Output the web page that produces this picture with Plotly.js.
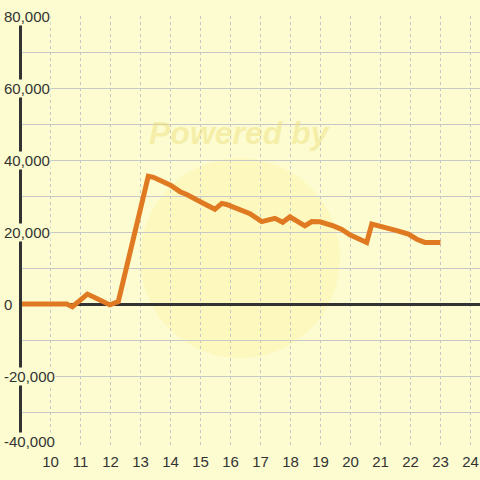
<!DOCTYPE html>
<html>
<head>
<meta charset="utf-8">
<script src="https://cdn.plot.ly/plotly-3.0.1.min.js"></script>
<style>html,body{margin:0;padding:0;background:#fcfcd0;}#chart{width:480px;height:480px;}</style>
</head>
<body>
<div id="chart"></div>
<script>
// Data
var hours = [9.0, 10.54, 10.73, 11.23, 11.54, 11.98, 12.26, 13.26, 13.43, 14.0, 14.32, 14.54, 15.09, 15.48, 15.71, 15.87, 16.65, 17.04, 17.48, 17.74, 17.98, 18.48, 18.71, 18.98, 19.43, 19.71, 19.98, 20.43, 20.54, 20.71, 21.21, 21.54, 21.93, 22.21, 22.48, 23.0];
var values = [0, 0, -750, 2750, 1500, -250, 650, 35500, 35200, 33000, 31200, 30400, 28000, 26300, 27950, 27650, 25100, 22900, 23800, 22700, 24200, 21700, 22900, 22850, 21700, 20700, 19200, 17300, 17100, 22200, 21300, 20400, 19400, 18000, 17100, 17100];
var xTickVals = [10, 11, 12, 13, 14, 15, 16, 17, 18, 19, 20, 21, 22, 23, 24];
var yTickVals = [-40000, -20000, 0, 20000, 40000, 60000, 80000];
var yTickText = ['-40,000', '-20,000', '0', '20,000', '40,000', '60,000', '80,000'];

var bg = '#fcfcd0';
var annotations = yTickVals.map(function (v, i) {
  return {
    xref: 'paper', yref: 'y', x: 0, y: v, xanchor: 'left', yanchor: 'middle',
    xshift: -19, yshift: (i === 0 ? 7 : 0), showarrow: false, text: yTickText[i], bgcolor: bg, borderpad: 0,
    font: {family: 'Liberation Sans, Arial, sans-serif', size: 15, color: '#333333'}
  };
});
annotations.unshift({
  xref: 'paper', yref: 'paper', x: 0.475, y: 0.729, xanchor: 'center', yanchor: 'middle', showarrow: false,
  text: '<b><i>Powered by</i></b>',
  font: {family: 'Liberation Sans, Arial, sans-serif', size: 32, color: 'rgba(238,222,120,0.45)'}
});

var trace = {
  x: hours, y: values, type: 'scatter', mode: 'lines',
  line: {color: '#e07a22', width: 5, shape: 'linear'},
  hoverinfo: 'skip', cliponaxis: true
};

var layout = {
  width: 480, height: 480,
  margin: {l: 22, r: 0, t: 16, b: 32},
  paper_bgcolor: bg, plot_bgcolor: bg,
  showlegend: false,
  xaxis: {
    range: [9.05, 24.317], tickvals: xTickVals, ticktext: xTickVals.map(String),
    showgrid: true, gridcolor: '#c6c6c6', griddash: '3px,3px', gridwidth: 1,
    zeroline: false, showline: false, ticks: '', ticklabelstandoff: 3,
    tickfont: {family: 'Liberation Sans, Arial, sans-serif', size: 15, color: '#333333'}
  },
  yaxis: {
    range: [-40000, 80000], dtick: 10000, tick0: 0,
    showgrid: true, gridcolor: '#c8c8c8', gridwidth: 1,
    zeroline: true, zerolinecolor: '#333333', zerolinewidth: 3,
    showline: true, linecolor: '#333333', linewidth: 3,
    showticklabels: false, ticks: ''
  },
  shapes: [{
    type: 'circle', xref: 'paper', yref: 'paper', layer: 'below',
    x0: 0.258, x1: 0.694, y0: 0.208, y1: 0.671,
    fillcolor: 'rgba(255,238,150,0.3)', line: {width: 0}
  }],
  annotations: annotations
};

Plotly.newPlot('chart', [trace], layout, {displayModeBar: false, staticPlot: true});
</script>
</body>
</html>
